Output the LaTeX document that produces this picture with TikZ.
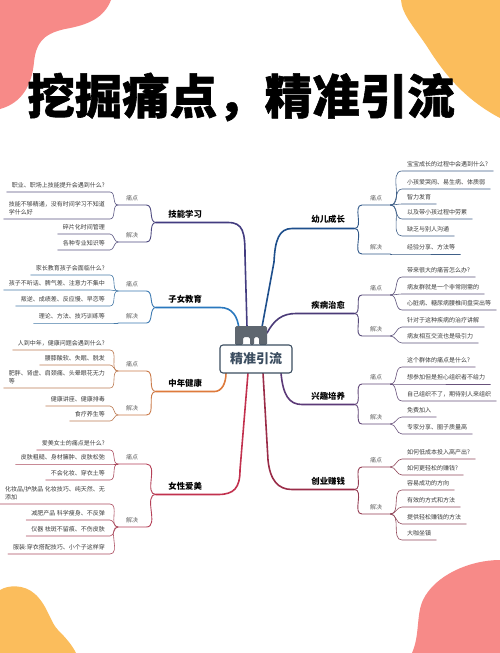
\documentclass[tikz,border=0pt]{standalone}
\usepackage{fontspec}
\setmainfont{Noto Sans CJK SC}

\tikzset{
  foglia/.style={font=\fontsize{6}{8.5}\selectfont,text=mappaTesto,align=left,
    inner xsep=5pt,inner ysep=3.6pt},
  etichetta/.style={font=\fontsize{6}{7}\selectfont,text=mappaTesto!80,
    inner xsep=0pt,inner ysep=3.6pt,minimum width=28pt},
  tema/.style={font=\fontsize{8.4}{10}\selectfont\bfseries,text=black,
    inner xsep=0pt,inner ysep=4.4pt},
  centro/.style={draw=mappaArdesia,fill=white,line width=1.1pt,rounded corners=3pt,
    minimum width=72pt,minimum height=28pt,text=mappaArdesia,
    font=\fontsize{13}{15}\selectfont\bfseries},
  ramo/.style={draw=#1,line width=1.6pt},
  rametto/.style={draw=#1!80!gray,line width=.9pt},
  filo/.style={draw=#1!65!gray,line width=.6pt},
}

% Foglie a sinistra: sottolineatura e curva verso l'etichetta.
\newcommand{\fogliemappasx}[3]{%
  \foreach \y/\testo [count=\i] in {#3}{
    \node[foglia,anchor=south east] (#1\i) at (110,\y) {\testo};
    \draw[filo=#2] (#1\i.south west) -- (#1\i.south east)
      to[out=0,in=180] (#1.south west);
  }}
% Foglie a destra, speculari.
\newcommand{\fogliemappadx}[3]{%
  \foreach \y/\testo [count=\i] in {#3}{
    \node[foglia,anchor=south west] (#1\i) at (402,\y) {\testo};
    \draw[filo=#2] (#1.south east) to[out=0,in=180] (#1\i.south west)
      -- (#1\i.south east);
  }}

\begin{document}
\begin{tikzpicture}[x=1pt,y=-1pt,line join=round,line cap=round]
  \definecolor{mappaTesto}{HTML}{3C3C3C}
  \definecolor{mappaArdesia}{HTML}{3B4D60}
  \definecolor{mappaPonte}{HTML}{5F6770}
  \definecolor{mappaMacchiaRosa}{HTML}{F78A88}
  \definecolor{mappaMacchiaGialla}{HTML}{FBBD5C}
  \definecolor{mappaIndaco}{HTML}{433C80}
  \definecolor{mappaBlu}{HTML}{2A78BE}
  \definecolor{mappaArancio}{HTML}{DE7A3C}
  \definecolor{mappaCremisi}{HTML}{C2314E}
  \definecolor{mappaNavy}{HTML}{1E4F8C}
  \definecolor{mappaViola}{HTML}{4B3B78}
  \definecolor{mappaPrugna}{HTML}{5C3A78}
  \definecolor{mappaBordeaux}{HTML}{9A2C48}
  \useasboundingbox (0,0) rectangle (500,653);
  \fill[white] (0,0) rectangle (500,653);

  % Macchie di colore negli angoli.
  \path[fill=mappaMacchiaRosa] (0,0) -- (111,0)
    .. controls (104,18) and (88,25) .. (65,29)
    .. controls (42,34) and (36,44) .. (34,62)
    .. controls (32,85) and (22,103) .. (0,109) -- cycle;
  \path[fill=mappaMacchiaGialla] (401,0)
    .. controls (402,15) and (415,28) .. (428,48)
    .. controls (442,70) and (462,98) .. (500,118) -- (500,0) -- cycle;
  \path[fill=mappaMacchiaGialla] (0,653) -- (0,590)
    .. controls (8,585) and (24,584) .. (35,594)
    .. controls (48,606) and (50,622) .. (58,630)
    .. controls (66,638) and (72,645) .. (76,653) -- cycle;
  \path[fill=mappaMacchiaRosa] (500,653) -- (500,560)
    .. controls (470,560) and (435,575) .. (423,600)
    .. controls (416,615) and (420,635) .. (412,653) -- cycle;

  \node[font=\fontsize{47.5}{52}\selectfont\bfseries\addfontfeatures{FakeBold=1.2},
    text=black] (titolo) at (241,97) {挖掘痛点，精准引流};

  % Rami di sinistra.
  \node[tema,minimum width=58pt,anchor=south west] (tecnica) at (156,222.5) {技能学习};
  \node[etichetta,anchor=south west] (tecnicaP) at (118,205) {痛点};
  \node[etichetta,anchor=south west] (tecnicaS) at (118,242) {解决};
  \fogliemappasx{tecnicaP}{mappaIndaco}{192/{职业、职场上技能提升会遇到什么?},
    219/{技能不够精通，没有时间学习不知道\\学什么好}}
  \fogliemappasx{tecnicaS}{mappaIndaco}{234/{碎片化时间管理},250/{各种专业知识等}}

  \node[tema,minimum width=58pt,anchor=south west] (figli) at (156,307.5) {子女教育};
  \node[etichetta,anchor=south west] (figliP) at (118,291) {痛点};
  \node[etichetta,anchor=south west] (figliS) at (118,323) {解决};
  \fogliemappasx{figliP}{mappaBlu}{275/{家长教育孩子会面临什么?},
    290/{孩子不听话、脾气差、注意力不集中},306/{叛逆、成绩差、反应慢、早恋等}}
  \fogliemappasx{figliS}{mappaBlu}{323/{理论、方法、技巧训练等}}

  \node[tema,minimum width=58pt,anchor=south west] (salute) at (156,391.5) {中年健康};
  \node[etichetta,anchor=south west] (saluteP) at (118,371) {痛点};
  \node[etichetta,anchor=south west] (saluteS) at (118,415) {解决};
  \fogliemappasx{saluteP}{mappaArancio}{350/{人到中年，健康问题会遇到什么?},
    365/{腰膝酸软、失眠、脱发},388/{肥胖、肾虚、肩颈痛、头晕眼花无力\\等}}
  \fogliemappasx{saluteS}{mappaArancio}{406/{健康讲座、健康排毒},421/{食疗养生等}}

  \node[tema,minimum width=58pt,anchor=south west] (bellezza) at (156,494.5) {女性爱美};
  \node[etichetta,anchor=south west] (bellezzaP) at (118,464) {痛点};
  \node[etichetta,anchor=south west] (bellezzaS) at (118,527) {解决};
  \fogliemappasx{bellezzaP}{mappaCremisi}{450/{爱美女士的痛点是什么?},
    464/{皮肤粗糙、身材臃肿、皮肤松弛},480/{不会化妆、穿衣土等}}
  \fogliemappasx{bellezzaS}{mappaCremisi}{504/{化妆品/护肤品 化妆技巧、纯天然、无\\添加},
    520/{减肥产品 科学瘦身、不反弹},536/{仪器 祛斑不留痕、不伤皮肤},
    554/{服装:穿衣搭配技巧、小个子这样穿}}

  \foreach \tema/\colore in {tecnica/mappaIndaco,figli/mappaBlu,
                             salute/mappaArancio,bellezza/mappaCremisi}{
    \foreach \e in {P,S}
      \draw[rametto=\colore] (\tema\e.south west) -- (\tema\e.south east)
        to[out=0,in=180] (\tema.south west);
  }

  % Rami di destra.
  \node[tema,minimum width=52pt,anchor=south west] (infanzia) at (302,228.5) {幼儿成长};
  \node[etichetta,anchor=south west] (infanziaP) at (362,205) {痛点};
  \node[etichetta,anchor=south west] (infanziaS) at (362,254) {解决};
  \fogliemappadx{infanziaP}{mappaNavy}{171/{宝宝成长的过程中会遇到什么?},
    189/{小孩爱哭闹、易生病、体质弱},204/{智力发育},
    219/{以及带小孩过程中劳累},236/{缺乏与别人沟通}}
  \fogliemappadx{infanziaS}{mappaNavy}{254/{经验分享、方法等}}

  \node[tema,minimum width=52pt,anchor=south west] (malattia) at (302,313.5) {疾病治愈};
  \node[etichetta,anchor=south west] (malattiaP) at (362,295) {痛点};
  \node[etichetta,anchor=south west] (malattiaS) at (362,336) {解决};
  \fogliemappadx{malattiaP}{mappaViola}{277/{带来很大的痛苦怎么办?},
    294/{病友群就是一个非常刚需的},310/{心脏病、糖尿病腰椎间盘突出等}}
  \fogliemappadx{malattiaS}{mappaViola}{327/{针对于这种疾病的治疗讲解},
    343/{病友相互交流也是吸引力}}

  \node[tema,minimum width=52pt,anchor=south west] (hobby) at (302,404.5) {兴趣培养};
  \node[etichetta,anchor=south west] (hobbyP) at (362,384) {痛点};
  \node[etichetta,anchor=south west] (hobbyS) at (362,424) {解决};
  \fogliemappadx{hobbyP}{mappaPrugna}{367/{这个群体的痛点是什么?},
    384/{想参加但是担心组织者不给力},401/{自己组织不了，期待别人来组织}}
  \fogliemappadx{hobbyS}{mappaPrugna}{417/{免费加入},434/{专家分享、圈子质量高}}

  \node[tema,minimum width=52pt,anchor=south west] (affari) at (302,489.5) {创业赚钱};
  \node[etichetta,anchor=south west] (affariP) at (362,467) {痛点};
  \node[etichetta,anchor=south west] (affariS) at (362,514) {解决};
  \fogliemappadx{affariP}{mappaBordeaux}{459/{如何低成本投入高产出?},
    475/{如何更轻松的赚钱?}}
  \fogliemappadx{affariS}{mappaBordeaux}{490/{容易成功的方向},507/{有效的方式和方法},
    524/{提供轻松赚钱的方法},540/{大咖坐镇}}

  \foreach \tema/\colore in {infanzia/mappaNavy,malattia/mappaViola,
                             hobby/mappaPrugna,affari/mappaBordeaux}{
    \foreach \e in {P,S}
      \draw[rametto=\colore] (\tema.south east) to[out=0,in=180]
        (\tema\e.south west) -- (\tema\e.south east);
  }

  % Rami principali, dal nodo centrale ai temi.
  \foreach \nome/\x/\y in {ingA/247/327,ingB/239/330,usC/226/373,usD/248/373,
                           ingE/262/327,ingF/267/333,usG/281/373,usH/263/373}{
    \coordinate (\nome) at (\x,\y);
  }
  \draw[ramo=mappaIndaco] (tecnica.south west) -- (tecnica.south east) -- (228,222.5)
    .. controls (243,222.5) and (245,232) .. (245,255) -- (ingA);
  \draw[ramo=mappaBlu] (figli.south west) -- (figli.south east) -- (220,307.5)
    .. controls (232,307.5) and (238,316) .. (ingB);
  \draw[ramo=mappaArancio] (salute.south west) -- (salute.south east)
    .. controls (222,391.5) and (226,383) .. (usC);
  \draw[ramo=mappaCremisi] (bellezza.south west) -- (bellezza.south east) -- (218,494.5)
    .. controls (234,494.5) and (240,488) .. (240,470) -- (usD);
  \draw[ramo=mappaNavy] (infanzia.south east) -- (infanzia.south west) -- (292,228.5)
    .. controls (279,228.5) and (275,240) .. (274,262) -- (ingE);
  \draw[ramo=mappaViola] (malattia.south east) -- (malattia.south west) -- (296,313.5)
    .. controls (282,313.5) and (274,320) .. (ingF);
  \draw[ramo=mappaPrugna] (hobby.south east) -- (hobby.south west)
    .. controls (289,404.5) and (283,395) .. (usG);
  \draw[ramo=mappaBordeaux] (affari.south east) -- (affari.south west) -- (292,489.5)
    .. controls (278,489.5) and (270,480) .. (268,460) -- (usH);

  % Raccordo grigio sopra il riquadro centrale.
  \path[fill=mappaPonte,rounded corners=1.5pt] (235,345) -- (235,326) -- (267,326)
    -- (267,345) -- (259,345) -- (259,337) -- (254,337) -- (254,345)
    -- (250,345) -- (250,337) -- (243,337) -- (243,345) -- cycle;
  \node[centro] (centro) at (256,359) {精准引流};
\end{tikzpicture}
\end{document}
